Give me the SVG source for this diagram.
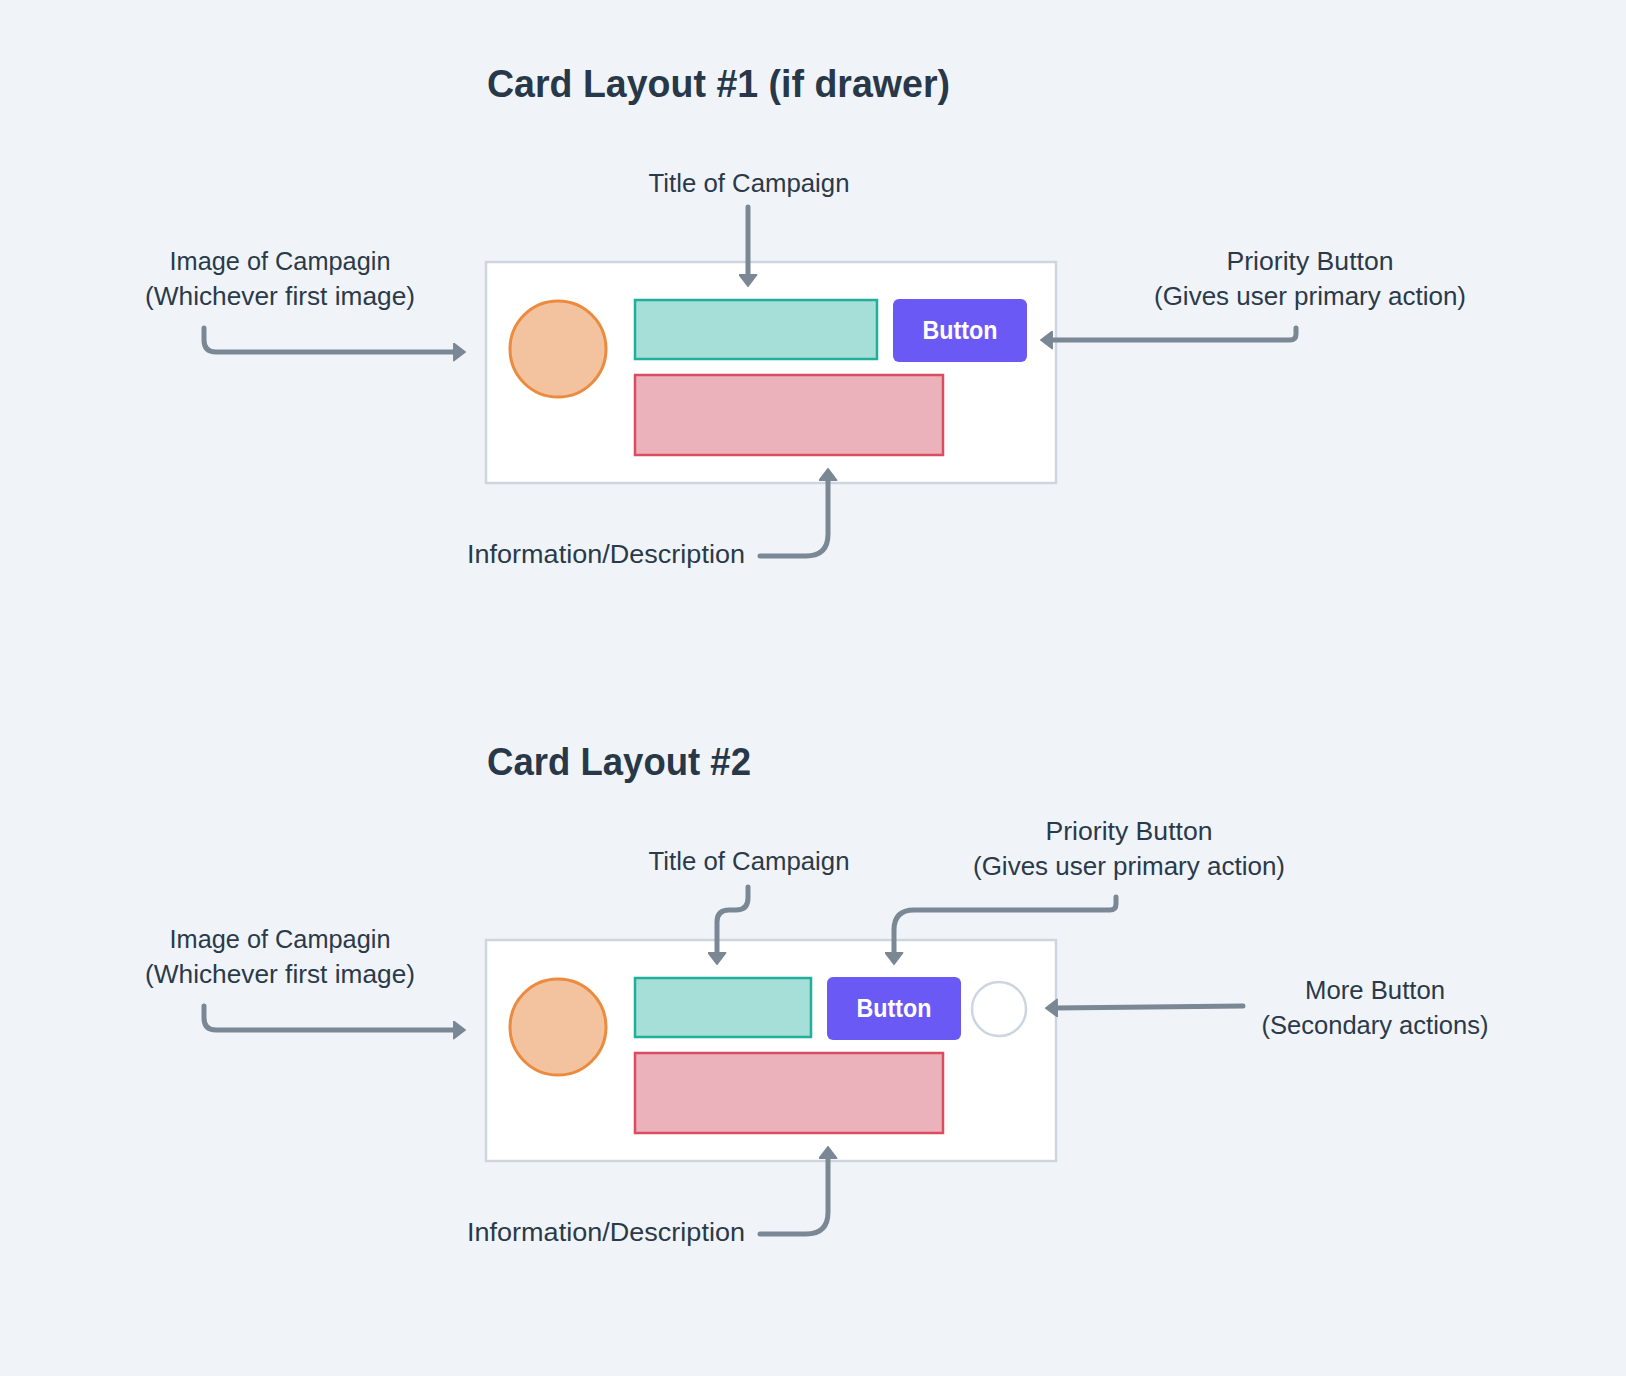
<svg xmlns="http://www.w3.org/2000/svg" width="1626" height="1376" viewBox="0 0 1626 1376">
<defs>
<marker id="ah" markerUnits="userSpaceOnUse" viewBox="0 0 13 19" refX="3" refY="9.5" markerWidth="13" markerHeight="19" orient="auto">
<path d="M0.8,0.8 L12.3,9.5 L0.8,18.2 Z" fill="#7A8794" stroke="#7A8794" stroke-width="1.5" stroke-linejoin="round"/>
</marker>
</defs>
<style>
.bg{fill:#F0F4F8}
.card{fill:#FFFFFF;stroke:#CDD6E0;stroke-width:2.5}
.img{fill:#F3C29E;stroke:#EC8A3E;stroke-width:3}
.title{fill:#A6DED8;stroke:#20AF9B;stroke-width:2.5}
.info{fill:#ECB2BC;stroke:#DA4D61;stroke-width:2.5}
.btn{fill:#6A59F5}
.more{fill:#FFFFFF;stroke:#CDD6E0;stroke-width:2.5}
.btxt{font-family:"Liberation Sans",Arial,sans-serif;font-weight:bold;font-size:26px;fill:#FFFFFF;text-anchor:middle}
.lbl{font-family:"Liberation Sans",Arial,sans-serif;font-size:25px;fill:#2B3A4A;text-anchor:middle}
.hd{font-family:"Liberation Sans",Arial,sans-serif;font-weight:bold;font-size:39px;fill:#283848}
.conn path{fill:none;stroke:#7A8794;stroke-width:5;stroke-linecap:round;stroke-linejoin:round;marker-end:url(#ah)}
</style>
<rect class="bg" x="0" y="0" width="1626" height="1376"/>

<text class="hd" x="487" y="97" textLength="463" lengthAdjust="spacingAndGlyphs">Card Layout #1 (if drawer)</text>
<text class="hd" x="487" y="775" textLength="264" lengthAdjust="spacingAndGlyphs">Card Layout #2</text>

<g id="card1">
<rect class="card" x="486" y="262" width="570" height="221"/>
<g id="card1-image"><circle class="img" cx="558" cy="349" r="48"/></g>
<g id="card1-title"><rect class="title" x="635" y="300" width="242" height="59"/></g>
<g id="card1-button"><rect class="btn" x="893" y="299" width="134" height="63" rx="6"/><text class="btxt" x="960" y="339" textLength="75" lengthAdjust="spacingAndGlyphs">Button</text></g>
<g id="card1-info"><rect class="info" x="635" y="375" width="308" height="80"/></g>
</g>

<g id="card2">
<rect class="card" x="486" y="940" width="570" height="221"/>
<g id="card2-image"><circle class="img" cx="558" cy="1027" r="48"/></g>
<g id="card2-title"><rect class="title" x="635" y="978" width="176" height="59"/></g>
<g id="card2-button"><rect class="btn" x="827" y="977" width="134" height="63" rx="6"/><text class="btxt" x="894" y="1017" textLength="75" lengthAdjust="spacingAndGlyphs">Button</text></g>
<g id="card2-more"><circle class="more" cx="999" cy="1009" r="27"/></g>
<g id="card2-info"><rect class="info" x="635" y="1053" width="308" height="80"/></g>
</g>

<g id="labels1">
<text class="lbl" x="749" y="192" textLength="201" lengthAdjust="spacingAndGlyphs">Title of Campaign</text>
<text class="lbl" x="280" y="270" textLength="221" lengthAdjust="spacingAndGlyphs">Image of Campagin</text>
<text class="lbl" x="280" y="305" textLength="270" lengthAdjust="spacingAndGlyphs">(Whichever first image)</text>
<text class="lbl" x="1310" y="270" textLength="167" lengthAdjust="spacingAndGlyphs">Priority Button</text>
<text class="lbl" x="1310" y="305" textLength="312" lengthAdjust="spacingAndGlyphs">(Gives user primary action)</text>
<text class="lbl" x="606" y="563" textLength="278" lengthAdjust="spacingAndGlyphs">Information/Description</text>
</g>

<g id="labels2">
<text class="lbl" x="749" y="870" textLength="201" lengthAdjust="spacingAndGlyphs">Title of Campaign</text>
<text class="lbl" x="280" y="948" textLength="221" lengthAdjust="spacingAndGlyphs">Image of Campagin</text>
<text class="lbl" x="280" y="983" textLength="270" lengthAdjust="spacingAndGlyphs">(Whichever first image)</text>
<text class="lbl" x="1129" y="840" textLength="167" lengthAdjust="spacingAndGlyphs">Priority Button</text>
<text class="lbl" x="1129" y="875" textLength="312" lengthAdjust="spacingAndGlyphs">(Gives user primary action)</text>
<text class="lbl" x="1375" y="999" textLength="140" lengthAdjust="spacingAndGlyphs">More Button</text>
<text class="lbl" x="1375" y="1034" textLength="227" lengthAdjust="spacingAndGlyphs">(Secondary actions)</text>
<text class="lbl" x="606" y="1241" textLength="278" lengthAdjust="spacingAndGlyphs">Information/Description</text>
</g>

<g id="connectors" class="conn">
<path d="M204,328 V340 Q204,352 216,352 H456"/>
<path d="M748,207 V277"/>
<path d="M1296,328 V334 Q1296,340 1290,340 H1050"/>
<path d="M760,556 H806 Q828,556 828,534 V478"/>
<path d="M204,1006 V1018 Q204,1030 216,1030 H456"/>
<path d="M748,887 V898 Q748,910 736,910 H729 Q717,910 717,922 V955"/>
<path d="M1116,897 V904 Q1116,910 1110,910 H914 Q894,910 894,930 V955"/>
<path d="M1243,1006 L1055,1008"/>
<path d="M760,1234 H806 Q828,1234 828,1212 V1156"/>
</g>
</svg>
